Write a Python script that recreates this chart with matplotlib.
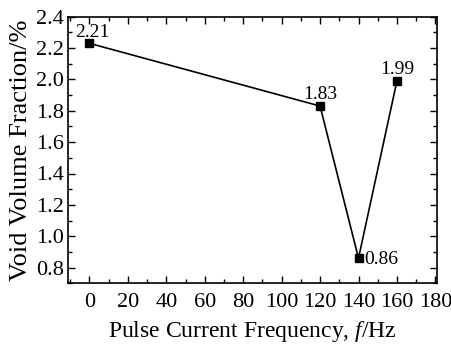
import matplotlib
matplotlib.use("Agg")
import matplotlib.pyplot as plt
from matplotlib.ticker import MultipleLocator

freq = [0, 120, 140, 160]
void_frac = [2.23, 1.83, 0.86, 1.99]
point_labels = ["2.21", "1.83", "0.86", "1.99"]
x_ticks = [0, 20, 40, 60, 80, 100, 120, 140, 160, 180]
y_ticks = [0.8, 1.0, 1.2, 1.4, 1.6, 1.8, 2.0, 2.2, 2.4]

plt.rcParams['font.family'] = ['Liberation Serif', 'DejaVu Serif']
plt.rcParams['mathtext.fontset'] = 'custom'
plt.rcParams['mathtext.it'] = 'Liberation Serif:italic'
plt.rcParams['mathtext.rm'] = 'Liberation Serif'

fig = plt.figure(figsize=(4.52, 3.47), dpi=100)
ax = fig.add_axes([0.151, 0.1836, 0.8165, 0.7684])

ax.plot(freq, void_frac, color='black', lw=1.2, marker='s', markersize=6,
        markerfacecolor='black', markeredgecolor='black')

offsets = [(-10, 2, 'left', 'bottom'), (0, 2, 'center', 'bottom'),
           (4, -1, 'left', 'center'), (0, 2, 'center', 'bottom')]
for x, y, lab, (dx, dy, ha, va) in zip(freq, void_frac, point_labels, offsets):
    ax.annotate(lab, (x, y), xytext=(dx, dy), textcoords='offset points',
                ha=ha, va=va, fontsize=14)

ax.set_xlim(-11, 181)
ax.set_ylim(0.7, 2.4)
ax.set_xticks(x_ticks)
ax.set_yticks(y_ticks)
ax.set_yticklabels([f"{v:.1f}" for v in y_ticks])
ax.xaxis.set_minor_locator(MultipleLocator(10))
ax.yaxis.set_minor_locator(MultipleLocator(0.1))
ax.tick_params(which='both', direction='in', top=True, right=True, labelsize=16, width=1)
ax.tick_params(which='major', length=5)
ax.tick_params(which='minor', length=3)
ax.tick_params(axis='x', pad=7)
ax.tick_params(axis='y', pad=3)
for s in ax.spines.values():
    s.set_linewidth(1.2)

ax.set_xlabel('Pulse Current Frequency, $\\it{f}$/Hz', fontsize=17, labelpad=5)
ax.set_ylabel('Void Volume Fraction/%', fontsize=19, labelpad=3)

fig.savefig('out.png', dpi=100)
